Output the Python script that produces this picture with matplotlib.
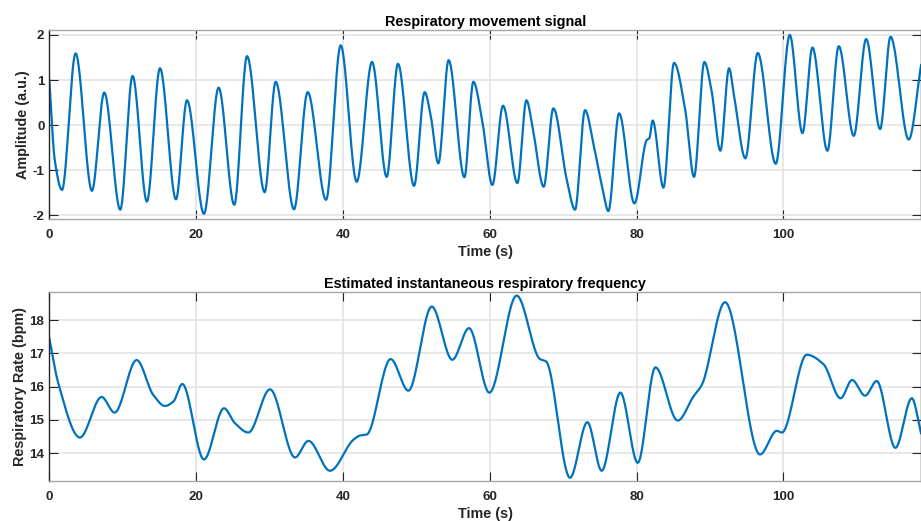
import numpy as np
import matplotlib
matplotlib.use('Agg')
import matplotlib.pyplot as plt

# respiratory movement signal: turning points (s, a.u.)
resp_t = [0, 0.75, 1.73, 3.59, 5.81, 7.49, 9.67, 11.35, 13.3, 15.08, 17.26, 18.76, 21.07, 23.07, 25.2,
          26.94, 29.34, 30.84, 33.34, 35.2, 37.7, 39.7, 41.88, 43.97, 45.96, 47.5, 49.69, 51.14, 51.95,
          53.0, 54.4, 56.55, 57.77, 59.0, 60.36, 61.81, 63.77, 65.0, 65.9, 67.35, 68.67, 70.5, 71.62,
          72.98, 74.2, 75.4, 76.16, 77.62, 79.71, 81.4, 81.75, 82.2, 83.66, 85.11, 86.6, 87.83, 89.24,
          90.2, 91.42, 92.6, 93.3, 94.83, 96.51, 98.96, 100.87, 102.6, 103.96, 106.0, 107.55, 109.59,
          111.28, 113.18, 114.6, 117.08, 118.76]
resp_v = [1.01, -0.78, -1.44, 1.59, -1.46, 0.72, -1.88, 1.09, -1.70, 1.26, -1.65, 0.55, -1.97, 0.83, -1.77,
          1.53, -1.49, 0.96, -1.87, 0.73, -1.66, 1.77, -1.26, 1.40, -1.15, 1.36, -1.35, 0.73, 0.22,
          -0.85, 1.44, -1.16, 0.96, 0.07, -1.33, 0.43, -1.29, 0.55, -0.11, -1.37, 0.37, -1.22, -1.88,
          0.33, -0.48, -1.44, -1.91, 0.26, -1.74, -0.33, -0.29, 0.10, -1.39, 1.38, 0.37, -1.15, 1.40,
          0.78, -0.57, 1.26, 0.63, -0.74, 1.60, -0.86, 2.00, -0.18, 1.72, -0.57, 1.75, -0.24,
          1.91, -0.09, 1.96, -0.32, 1.33]

# estimated instantaneous respiratory rate (s, bpm)
rate_t = [0, 1.23, 4.18, 7.13, 8.9, 11.9, 14.17, 15.76, 16.9, 18.12, 21.07, 23.8, 25.3, 27.12, 30.07,
          33.48, 35.3, 38.24, 41.42, 42.33, 43.24, 46.5, 48.92, 52.1, 54.9, 57.18, 59.95, 63.67, 66.85,
          67.67, 70.94, 73.3, 75.25, 77.8, 80.16, 82.57, 85.6, 87.74, 88.88, 92.06, 96.82, 99.1, 99.8,
          103.18, 105.45, 107.8, 109.36, 111.13, 112.72, 115.26, 117.5, 118.76]
rate_v = [17.46, 16.10, 14.47, 15.69, 15.22, 16.80, 15.75, 15.42, 15.55, 16.08, 13.81, 15.35, 14.90, 14.62, 15.92,
          13.87, 14.37, 13.47, 14.40, 14.53, 14.56, 16.83, 15.88, 18.41, 16.81, 17.76, 15.82, 18.74, 16.83,
          16.76, 13.26, 14.93, 13.47, 15.82, 13.71, 16.58, 14.98, 15.70, 16.05, 18.54, 13.96, 14.67, 14.62,
          16.96, 16.68, 15.65, 16.20, 15.73, 16.17, 14.16, 15.65, 14.60]


# monotone cubic (pchip) so the line passes smoothly through the read points
def pchip(x, y, xn):
	x = np.asarray(x, float); y = np.asarray(y, float)
	h = np.diff(x); d = np.diff(y) / h
	m = np.zeros_like(y)
	for k in range(1, len(x) - 1):
		if d[k-1] * d[k] > 0:
			w1 = 2*h[k] + h[k-1]; w2 = h[k] + 2*h[k-1]
			m[k] = (w1 + w2) / (w1/d[k-1] + w2/d[k])
	m[0] = d[0]; m[-1] = d[-1]
	i = np.clip(np.searchsorted(x, xn) - 1, 0, len(x) - 2)
	s = (xn - x[i]) / h[i]
	h00 = 2*s**3 - 3*s**2 + 1; h10 = s**3 - 2*s**2 + s
	h01 = -2*s**3 + 3*s**2; h11 = s**3 - s**2
	return h00*y[i] + h10*h[i]*m[i] + h01*y[i+1] + h11*h[i]*m[i+1]


plt.rcParams['font.family'] = ['Liberation Sans', 'DejaVu Sans']
plt.rcParams['font.weight'] = 'bold'
plt.rcParams['axes.unicode_minus'] = False
txt = '#262626'
blue = '#0072BD'

fig = plt.figure(figsize=(9.21, 5.21), dpi=100)
ax1 = fig.add_axes([0.0535, 0.5802, 0.9465, 0.3622])
ax2 = fig.add_axes([0.0535, 0.0773, 0.9465, 0.3617])

tt = np.linspace(0, 118.76, 4000)
ax1.plot(tt, pchip(resp_t, resp_v, tt), color=blue, lw=1.6)
ax2.plot(tt, pchip(rate_t, rate_v, tt), color=blue, lw=1.6)

ax1.set_ylim(-2.08, 2.11)
ax1.set_yticks([-2, -1, 0, 1, 2])
ax2.set_ylim(13.17, 18.84)
ax2.set_yticks([14, 15, 16, 17, 18])

for ax in (ax1, ax2):
	ax.set_xlim(0, 118.75)
	ax.set_xticks([0, 20, 40, 60, 80, 100])
	ax.grid(True, color='#e2e2e2', lw=1.1)
	ax.set_axisbelow(True)
	ax.tick_params(direction='in', length=6.5, width=0.8, color=txt, labelcolor=txt,
	               labelsize=9.6, top=True, right=True)
	ax.tick_params(axis='x', pad=7.5)
	ax.tick_params(axis='y', pad=3.5)
	for lab in ax.get_xticklabels() + ax.get_yticklabels():
		lab.set_fontweight('bold')
	ax.spines['left'].set_color(txt)
	ax.spines['right'].set_color(txt)
	for sp in ('top', 'bottom'):
		ax.spines[sp].set_color('#a6a6a6')
	for sp in ax.spines.values():
		sp.set_linewidth(1.0)
	ax.set_xlabel('Time (s)', fontsize=10.4, fontweight='bold', color=txt, labelpad=3)

ax1.set_title('Respiratory movement signal', fontsize=10.4, fontweight='bold', color='black', pad=3)
ax2.set_title('Estimated instantaneous respiratory frequency', fontsize=10.4, fontweight='bold', color='black', pad=3)
ax1.set_ylabel('Amplitude (a.u.)', fontsize=10.4, fontweight='bold', color=txt, labelpad=1.5)
ax2.set_ylabel('Respiratory Rate (bpm)', fontsize=10.4, fontweight='bold', color=txt, labelpad=1.5)

fig.savefig('out.png', dpi=100)
